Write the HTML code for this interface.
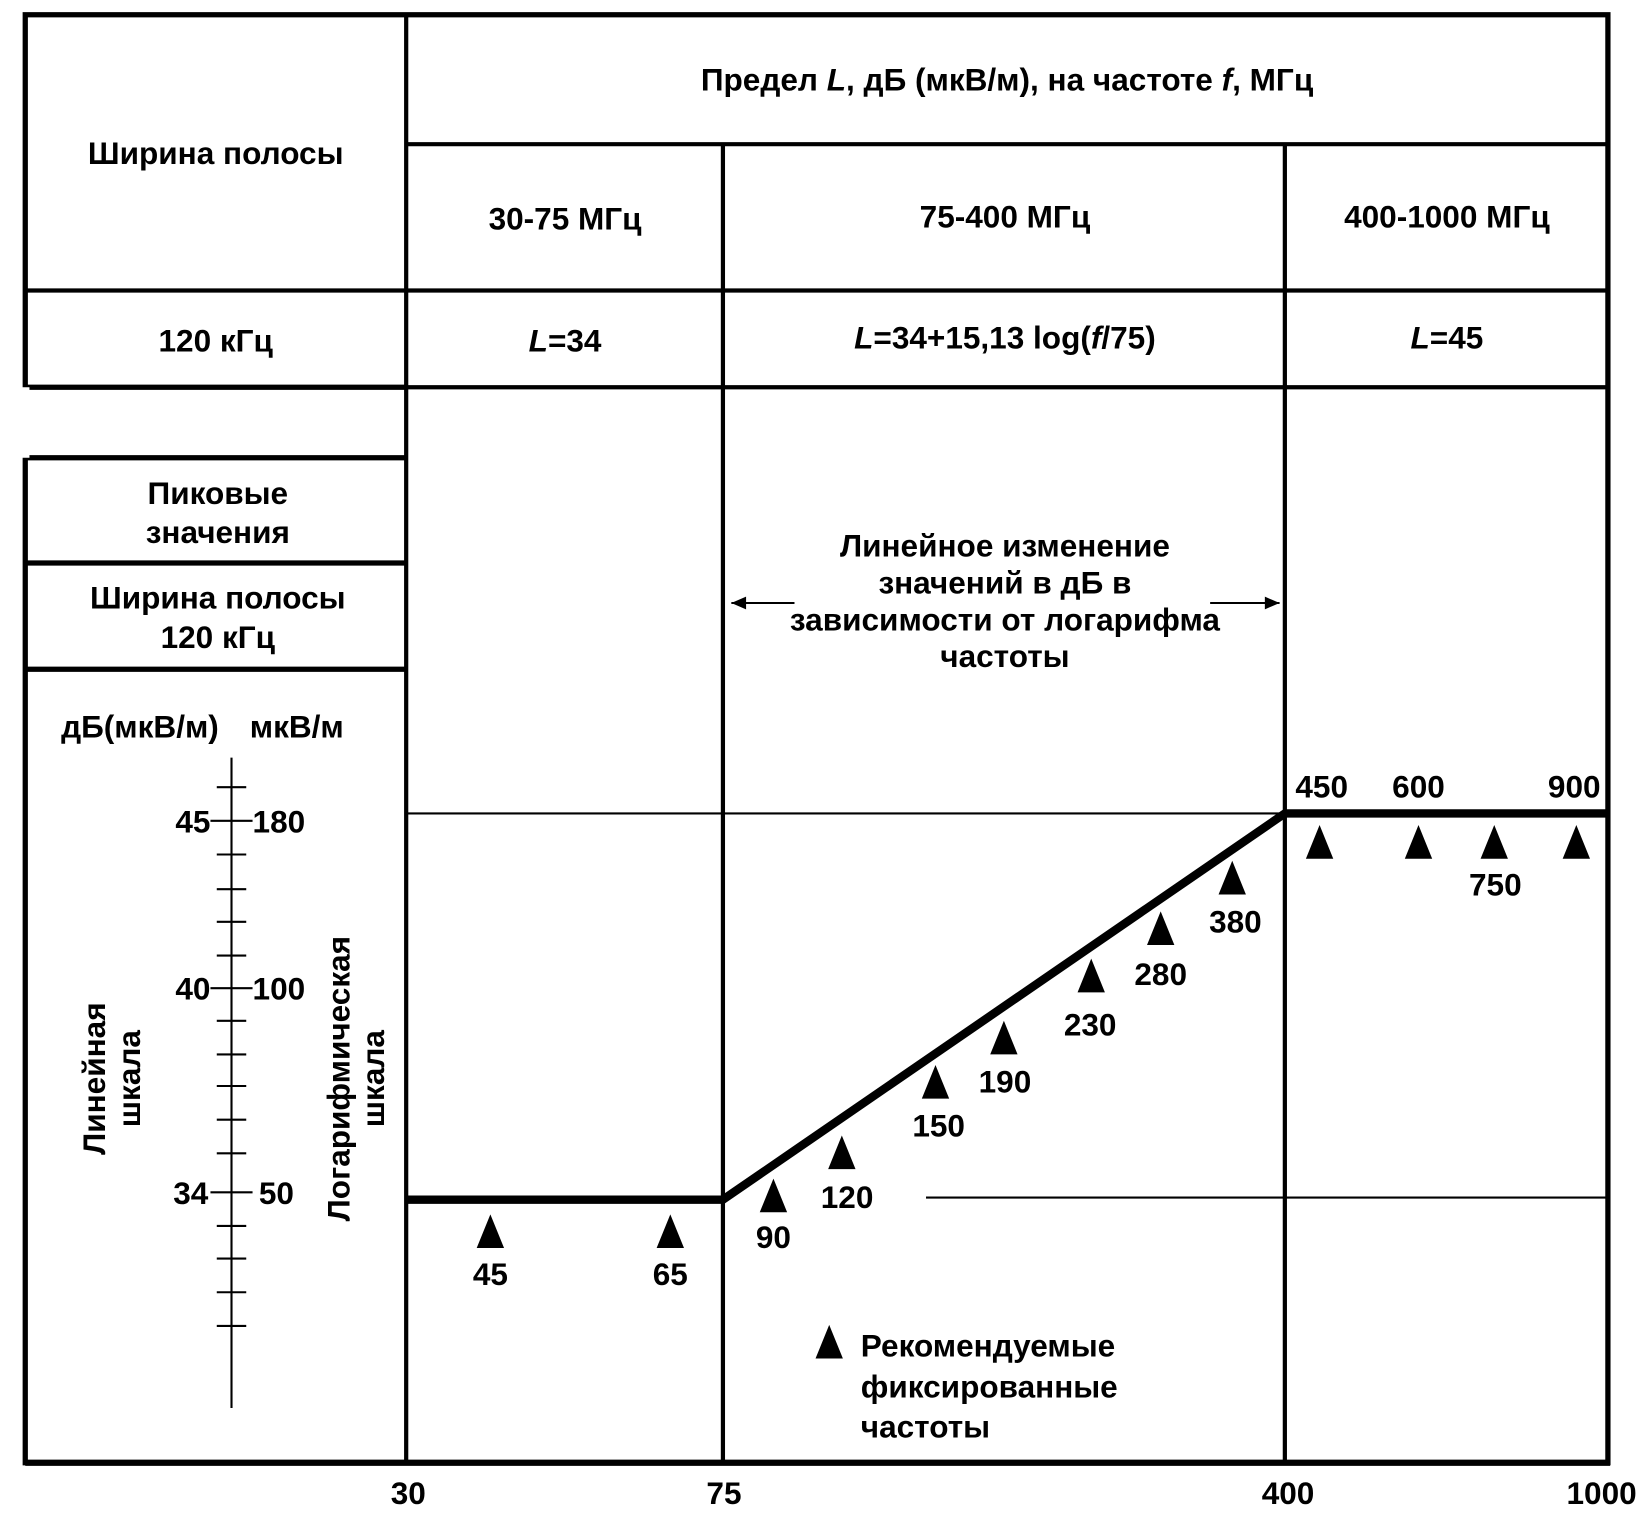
<!DOCTYPE html>
<html><head><meta charset="utf-8"><style>html,body{margin:0;padding:0;background:#fff}svg{display:block}</style></head>
<body>
<svg width="1650" height="1528" viewBox="0 0 1568 1452" xmlns="http://www.w3.org/2000/svg" font-family="Liberation Sans, sans-serif" font-weight="bold" font-size="30" fill="#000">
<g stroke="#000" fill="none">
<path d="M24 14H1528V1390H24Z M24 368H386 M24 435H386 M24 535H386 M24 636H386" stroke-width="5"/>
<path d="M24 368V435" stroke="#fff" stroke-width="8"/>
<path d="M386 14V1390 M386 137H1528 M24 276H1528 M386 368H1528 M687 137V1390 M1221 137V1390" stroke-width="4"/>
<path d="M24 1390H1530" stroke-width="6"/>
<path d="M386 773H1528 M880 1138H1528" stroke-width="2"/>
<path d="M386 1140H687L1221 773H1528" stroke-width="8"/>
<path d="M755 573H695 M1150 573H1216" stroke-width="2"/>
<path d="M220 720V1338" stroke-width="2"/>
<g stroke-width="2">
<path d="M206 748H234 M200 780H240 M206 812H234 M206 845H234 M206 876H234 M206 908H234 M200 939H240 M206 970H234 M206 1002H234 M206 1032H234 M206 1064H234 M206 1096H234 M200 1133H240 M206 1165H234 M206 1196H234 M206 1228H234 M206 1260H234"/>
</g>
</g>
<path d="M695 573l14-6v12z M1216 573l-14-6v12z"/>
<g>
<path d="M466 1154l-13 32h26z M637 1154l-13 32h26z M735 1120l-13 32h26z M800 1079l-13 32h26z M889 1012l-13 32h26z M954 970l-13 32h26z M1037 911l-13 32h26z M1103 866l-13 32h26z M1171 818l-13 32h26z M1254 784l-13 32h26z M1348 784l-13 32h26z M1420 784l-13 32h26z M1498 784l-13 32h26z M788 1259l-13 32h26z"/>
</g>
<g text-anchor="middle">
<text x="957" y="86">Предел <tspan font-style="italic">L</tspan>, дБ (мкВ/м), на частоте <tspan font-style="italic">f</tspan>, МГц</text>
<text x="205" y="156">Ширина полосы</text>
<text x="537" y="218">30-75 МГц</text>
<text x="955" y="216">75-400 МГц</text>
<text x="1375" y="216">400-1000 МГц</text>
<text x="205" y="334">120 кГц</text>
<text x="537" y="334"><tspan font-style="italic">L</tspan>=34</text>
<text x="955" y="331"><tspan font-style="italic">L</tspan>=34+15,13 log(<tspan font-style="italic">f</tspan>/75)</text>
<text x="1375" y="331"><tspan font-style="italic">L</tspan>=45</text>
<text x="207" y="479">Пиковые</text>
<text x="207" y="516">значения</text>
<text x="207" y="578">Ширина полосы</text>
<text x="207" y="616">120 кГц</text>
<text x="955" y="529">Линейное  изменение</text>
<text x="955" y="564">значений в дБ в</text>
<text x="955" y="599">зависимости от логарифма</text>
<text x="955" y="634">частоты</text>
<text x="466" y="1221">45</text><text x="637" y="1221">65</text><text x="735" y="1186">90</text>
<text x="805" y="1148">120</text><text x="892" y="1080">150</text><text x="955" y="1038">190</text>
<text x="1036" y="984">230</text><text x="1103" y="936">280</text><text x="1174" y="886">380</text>
<text x="1256" y="758">450</text><text x="1348" y="758">600</text><text x="1421" y="851">750</text><text x="1496" y="758">900</text>
<text x="388" y="1429">30</text><text x="688" y="1429">75</text><text x="1224" y="1429">400</text><text x="1522" y="1429">1000</text>
<text x="133" y="701">дБ(мкВ/м)</text>
<text x="282" y="701">мкВ/м</text>
<text transform="translate(100 1025) rotate(-90)"><tspan x="0" y="0">Линейная</tspan><tspan x="0" y="33">шкала</tspan></text>
<text transform="translate(332 1025) rotate(-90)"><tspan x="0" y="0">Логарифмическая</tspan><tspan x="0" y="33">шкала</tspan></text>
</g>
<g text-anchor="end"><text x="200" y="791">45</text><text x="200" y="950">40</text><text x="198" y="1144">34</text></g>
<g><text x="240" y="791">180</text><text x="240" y="950">100</text><text x="246" y="1144">50</text>
<text x="818" y="1289">Рекомендуемые</text><text x="818" y="1328">фиксированные</text><text x="818" y="1366">частоты</text></g>
</svg>
</body></html>
